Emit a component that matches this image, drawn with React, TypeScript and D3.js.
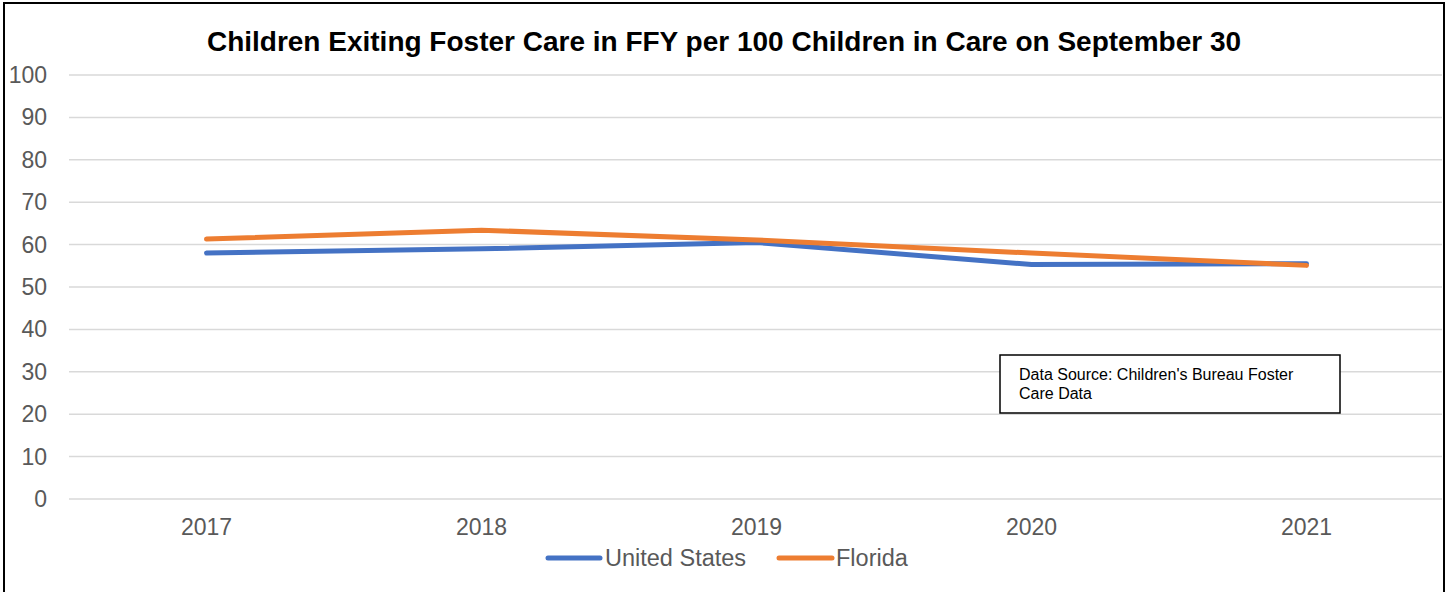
import React from "react";
import * as d3 from "d3";

const years = ["2017", "2018", "2019", "2020", "2021"];
const unitedStates = [58.0, 59.0, 60.5, 55.3, 55.5];
const florida = [61.3, 63.4, 61.1, 58.0, 55.1];
const yTicks = [0, 10, 20, 30, 40, 50, 60, 70, 80, 90, 100];

const W = 1448;
const H = 592;
const left = 69;
const right = 1444;
const top = 75;
const bottom = 499;

export default function App() {
  const x = d3.scaleBand<string>().domain(years).range([left, right]);
  const y = d3.scaleLinear().domain([0, 100]).range([bottom, top]);
  const cx = (d: string) => (x(d) as number) + x.bandwidth() / 2;
  const line = d3
    .line<number>()
    .x((_, i) => cx(years[i]))
    .y((v) => y(v));

  const font = "'Liberation Sans', Arimo, Helvetica, sans-serif";
  const series = [
    { name: "United States", values: unitedStates, color: "#4472C4" },
    { name: "Florida", values: florida, color: "#ED7D31" },
  ];

  return (
    <svg
      width={W}
      height={H}
      style={{ position: "absolute", left: 0, top: 0, display: "block" }}
      fontFamily={font}
    >
      <rect x={0} y={0} width={W} height={H} fill="#fff" />
      <rect x={4} y={3} width={1440} height={H + 10} fill="none" stroke="#000" strokeWidth={2} />
      <text x={724} y={51} textAnchor="middle" fontSize={28} fontWeight="bold" fill="#000">
        Children Exiting Foster Care in FFY per 100 Children in Care on September 30
      </text>
      {yTicks.map((t) => (
        <g key={t}>
          <line x1={left} x2={right - 2} y1={y(t)} y2={y(t)} stroke="#D9D9D9" strokeWidth={1.5} />
          <text x={47} y={y(t) + 8} textAnchor="end" fontSize={23} fill="#595959">
            {t}
          </text>
        </g>
      ))}
      {years.map((yr) => (
        <text key={yr} x={cx(yr)} y={535} textAnchor="middle" fontSize={23} fill="#595959">
          {yr}
        </text>
      ))}
      {series.map((s) => (
        <path
          key={s.name}
          d={line(s.values) as string}
          fill="none"
          stroke={s.color}
          strokeWidth={5}
          strokeLinecap="round"
          strokeLinejoin="round"
        />
      ))}
      <rect x={1000} y={355} width={340} height={58} fill="#fff" stroke="#000" strokeWidth={1.5} />
      <text x={1019} y={380} fontSize={16} fill="#000">
        Data Source: Children's Bureau Foster
      </text>
      <text x={1019} y={399} fontSize={16} fill="#000">
        Care Data
      </text>
      <line x1={548} x2={600} y1={558} y2={558} stroke="#4472C4" strokeWidth={5} strokeLinecap="round" />
      <text x={605} y={566} fontSize={23.5} fill="#595959">
        United States
      </text>
      <line x1={779} x2={832} y1={558} y2={558} stroke="#ED7D31" strokeWidth={5} strokeLinecap="round" />
      <text x={836} y={566} fontSize={23.5} fill="#595959">
        Florida
      </text>
    </svg>
  );
}
